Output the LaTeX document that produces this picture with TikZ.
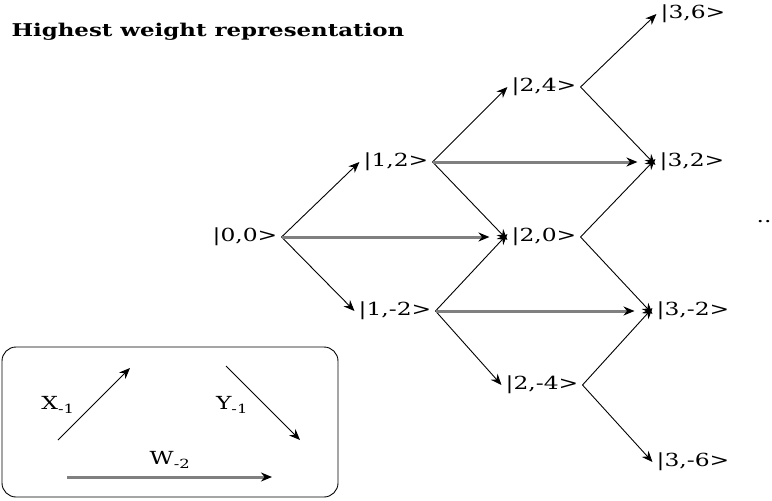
\documentclass[tikz,border=0pt]{standalone}
\usepackage{fontspec}
\setmainfont{DejaVu Serif}[FakeStretch=1.3]
\usepackage{tikz}
\usetikzlibrary{arrows.meta,positioning}

\tikzset{
  ket/.style={inner sep=4pt, font=\fontsize{18}{20}\selectfont},
  xarr/.style={-{Stealth[length=11pt,width=9pt]}, line width=0.9pt},
  warr/.style={-{Stealth[length=11pt,width=9pt,black]}, line width=3pt, draw=black!50, shorten >=18pt},
  legtext/.style={font=\fontsize{18}{20}\selectfont}
}

\begin{document}
\begin{tikzpicture}[x=1pt, y=-1pt]
        \useasboundingbox (0,0) rectangle (772,501);

        % Title
        \node[anchor=west, font=\fontsize{17.6}{20}\selectfont\bfseries] (title) at (8,32) {Highest weight representation};

        % Weight states
        \node[ket] (n00)  at (245,237) {|0,0>};
        \node[ket] (n12)  at (396,162) {|1,2>};
        \node[ket] (n1m2) at (395,311) {|1,-2>};
        \node[ket] (n24)  at (544,87)  {|2,4>};
        \node[ket] (n20)  at (544,237) {|2,0>};
        \node[ket] (n2m4) at (542,385) {|2,-4>};
        \node[ket] (n36)  at (693,14)  {|3,6>};
        \node[ket] (n32)  at (692,162) {|3,2>};
        \node[ket] (n3m2) at (693,311) {|3,-2>};
        \node[ket] (n3m6) at (693,462) {|3,-6>};
        \node[ket] (dots) at (764,222) {..};

        % X and Y steps
        \draw[xarr] (n00.east) -- (n12.west);
        \draw[xarr] (n00.east) -- (n1m2.west);
        \draw[xarr] (n12.east) -- (n24.west);
        \draw[xarr] (n12.east) -- ([yshift=-3pt]n20.west);
        \draw[xarr] (n1m2.east) -- ([yshift=3pt]n20.west);
        \draw[xarr] (n1m2.east) -- (n2m4.west);
        \draw[xarr] (n24.east) -- (n36.west);
        \draw[xarr] (n24.east) -- ([yshift=-3pt]n32.west);
        \draw[xarr] (n20.east) -- ([yshift=3pt]n32.west);
        \draw[xarr] (n20.east) -- ([yshift=-3pt]n3m2.west);
        \draw[xarr] (n2m4.east) -- ([yshift=3pt]n3m2.west);
        \draw[xarr] (n2m4.east) -- (n3m6.west);

        % W steps
        \draw[warr] (n00.east) -- (n20.west);
        \draw[warr] (n12.east) -- (n32.west);
        \draw[warr] (n1m2.east) -- (n3m2.west);

        % Legend
        \draw[line width=0.9pt, rounded corners=14pt] (2,347) rectangle (338,497);
        \coordinate (xs) at (58,440);
        \coordinate (xe) at (130,368);
        \coordinate (ys) at (226,366);
        \coordinate (ye) at (300,440);
        \coordinate (ws) at (67,477);
        \coordinate (we) at (272,477);
        \draw[xarr] (xs) -- (xe);
        \draw[xarr] (ys) -- (ye);
        \draw[warr, shorten >=0pt] (ws) -- (we);
        \node[legtext] (xlab) at (58,405) {X\textsubscript{-1}};
        \node[legtext] (ylab) at (232,405) {Y\textsubscript{-1}};
        \node[legtext] (wlab) at (170,460) {W\textsubscript{-2}};
\end{tikzpicture}
\end{document}
